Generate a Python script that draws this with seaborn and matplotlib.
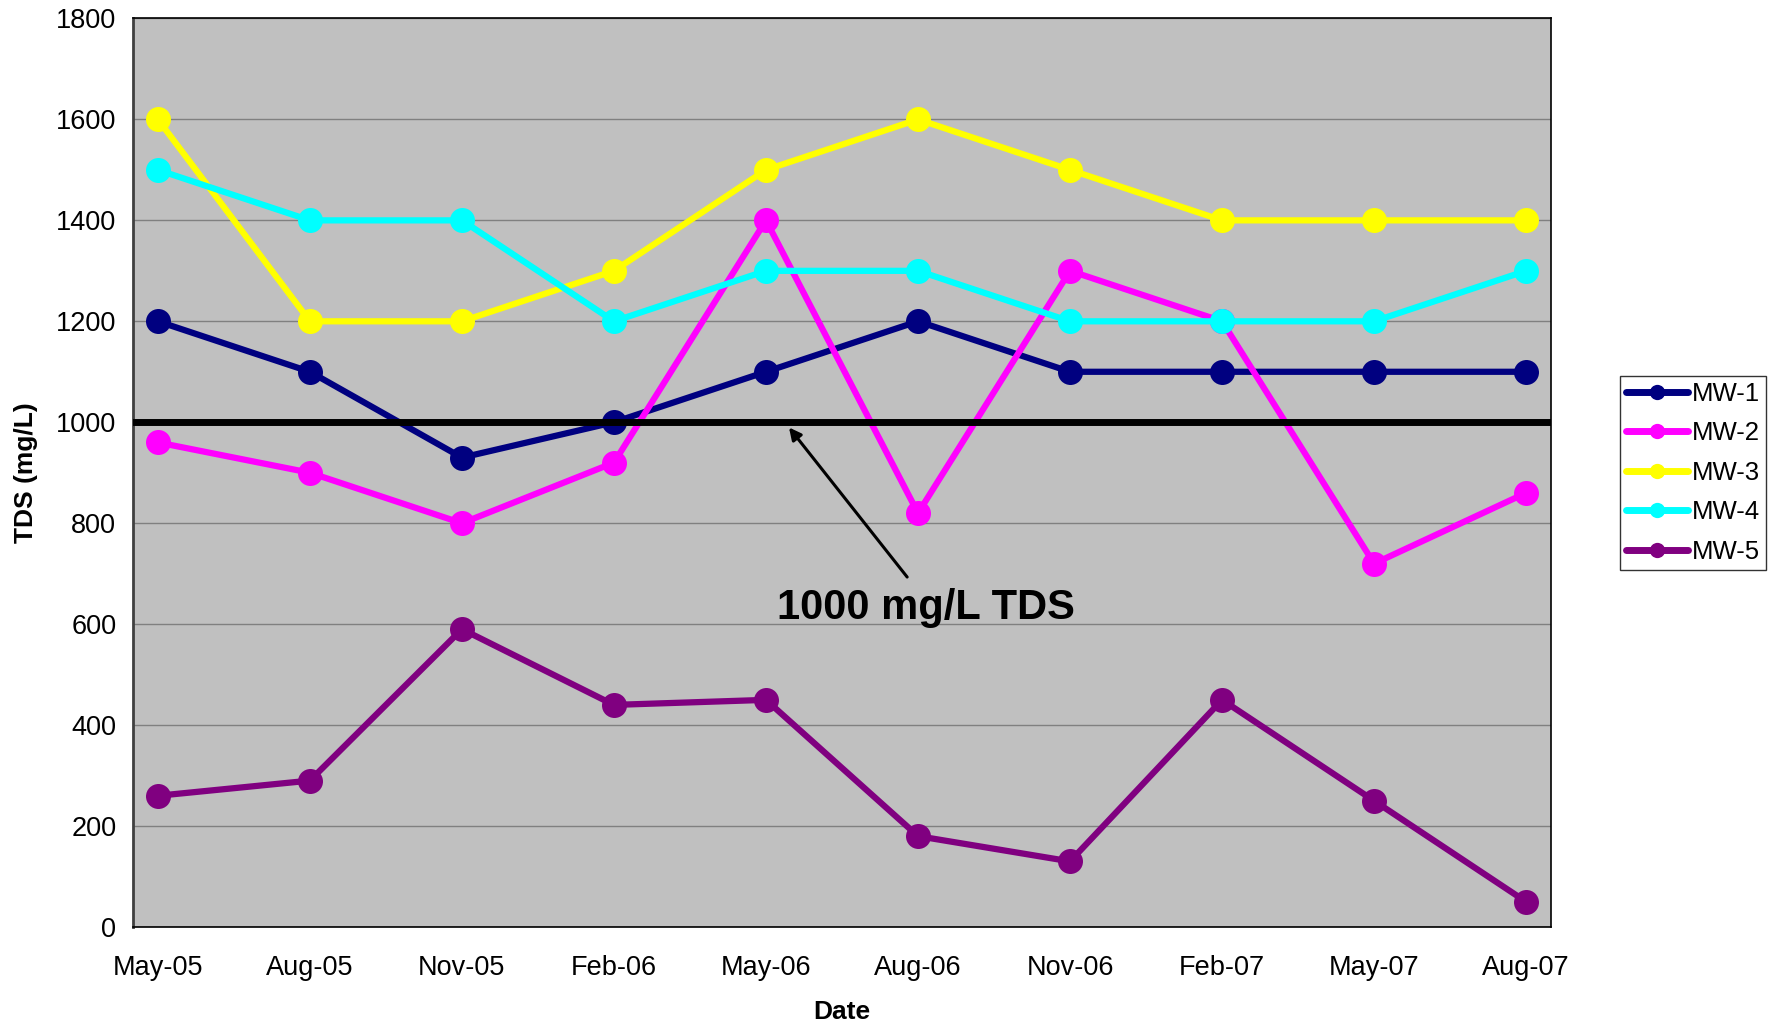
import numpy as np
import pandas as pd
import seaborn as sns
import matplotlib.pyplot as plt
from matplotlib.lines import Line2D

# ---------------- Data ----------------
dates = ["May-05", "Aug-05", "Nov-05", "Feb-06", "May-06",
         "Aug-06", "Nov-06", "Feb-07", "May-07", "Aug-07"]
mw1 = [1200, 1100, 930, 1000, 1100, 1200, 1100, 1100, 1100, 1100]
mw2 = [960, 900, 800, 920, 1400, 820, 1300, 1200, 720, 860]
mw3 = [1600, 1200, 1200, 1300, 1500, 1600, 1500, 1400, 1400, 1400]
mw4 = [1500, 1400, 1400, 1200, 1300, 1300, 1200, 1200, 1200, 1300]
mw5 = [260, 290, 590, 440, 450, 180, 130, 450, 250, 50]
wells = ["MW-1", "MW-2", "MW-3", "MW-4", "MW-5"]
limit = 1000

colors = {"MW-1": "#000080", "MW-2": "#FF00FF", "MW-3": "#FFFF00",
          "MW-4": "#00FFFF", "MW-5": "#800080"}

# long-form table for seaborn
pos = np.arange(len(dates))
frames = []
for name, vals in zip(wells, [mw1, mw2, mw3, mw4, mw5]):
    frames.append(pd.DataFrame({"pos": pos, "TDS": vals, "Well": name}))
df = pd.concat(frames, ignore_index=True)

# ---------------- Plot ----------------
sns.set_style("white")
plt.rcParams['font.family'] = ['Liberation Sans', 'DejaVu Sans']
plt.rcParams['text.color'] = 'black'
plt.rcParams['axes.labelcolor'] = 'black'
plt.rcParams['xtick.labelcolor'] = 'black'
plt.rcParams['ytick.labelcolor'] = 'black'

fig = plt.figure(figsize=(17.82, 10.26), dpi=100)
ax = fig.add_axes([0.0746, 0.0965, 0.7958, 0.8855])
ax.set_facecolor("#C0C0C0")

sns.lineplot(data=df, x="pos", y="TDS", hue="Well", palette=colors,
             marker="o", markersize=18, markeredgewidth=0, linewidth=4.5,
             legend=False, ax=ax, zorder=3)

# 1000 mg/L reference line on top
ax.axhline(limit, color="black", linewidth=5, zorder=5)

# axes limits / ticks
off = 0.164
ax.set_xlim(-off, len(dates) - 1 + off)
ax.set_ylim(0, 1800)
ax.set_yticks(range(0, 1801, 200))
ax.yaxis.grid(True, color="#808080", linewidth=1)
ax.set_axisbelow(True)

ax.set_xticks(pos - off)
ax.set_xticklabels([])
ax.set_xticks(pos, minor=True)
ax.set_xticklabels(dates, minor=True)
ax.tick_params(axis="x", which="minor", length=0, pad=20, labelsize=19.5)
ax.tick_params(axis="x", which="major", length=8, width=1.2, color="#606060",
               direction="out")
ax.tick_params(axis="y", length=8, width=1.2, color="#404040", direction="out",
               labelsize=19.5, pad=4)

for s in ax.spines.values():
    s.set_color("black")
    s.set_linewidth(1.2)
ax.spines["left"].set_color("#404040")
ax.spines["left"].set_linewidth(2)

ax.set_xlabel("Date", fontsize=19, fontweight="bold", labelpad=14)
ax.set_ylabel("TDS (mg/L)", fontsize=19, fontweight="bold", labelpad=13)

# annotation
ax.annotate("", xy=(4.14, 994), xytext=(4.94, 689),
            arrowprops=dict(arrowstyle="-|>", color="black", lw=2.2,
                            mutation_scale=18), zorder=6)
ax.text(5.05, 632, "1000 mg/L TDS", fontsize=30, fontweight="bold",
        ha="center", va="center", zorder=6)

# legend
handles = [Line2D([0], [0], color=colors[w], marker="o", markersize=11,
                  markeredgewidth=0, linewidth=5) for w in wells]
leg = fig.legend(handles, wells, loc="upper left",
                 bbox_to_anchor=(0.909, 0.634), fontsize=18.5,
                 frameon=True, fancybox=False, handlelength=2.4,
                 handletextpad=0.15, borderpad=0.25, labelspacing=0.6,
                 borderaxespad=0)
leg.get_frame().set_edgecolor("black")
leg.get_frame().set_linewidth(1)

fig.savefig("out.png", dpi=100)
